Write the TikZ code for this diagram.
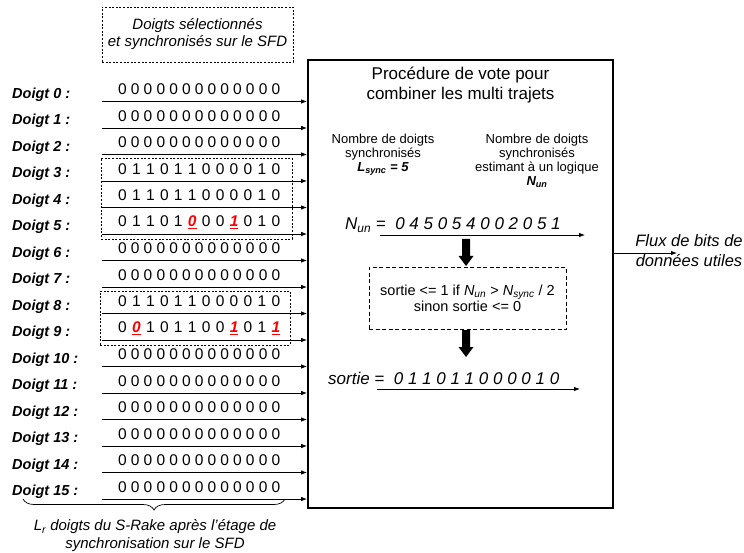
\documentclass[tikz,border=0pt]{standalone}
\usepackage{fontspec}
\setmainfont{Liberation Sans}
\usetikzlibrary{arrows.meta,decorations.pathreplacing,calc}
\newcommand\rd[1]{\textcolor{red}{\underline{\textbf{\textit{#1}}}}}
\newcommand\bitrow[1]{\makebox[162pt][s]{#1}}
\def\zr{0 0 0 0 0 0 0 0 0 0 0 0 0}
\def\br{0 1 1 0 1 1 0 0 0 0 1 0}
\def\brA{0 1 1 0 1 \rd{0} 0 0 \rd{1} 0 1 0}
\def\brB{0 \rd{0} 1 0 1 1 0 0 \rd{1} 0 1 \rd{1}}
\begin{document}
\begin{tikzpicture}[x=1pt,y=-1pt,
  lbl/.style={font=\fontsize{14.5}{16}\selectfont\bfseries\itshape, anchor=west, inner sep=0pt},
  bits/.style={font=\fontsize{15.5}{17}\selectfont, anchor=west, inner sep=0pt},
  row/.style={-{Latex[length=6pt,width=4.5pt]}, line width=0.8pt},
  grp/.style={draw, dash pattern=on 2pt off 1.6pt, line width=0.7pt},
  info/.style={align=center, inner sep=0pt, font=\fontsize{13}{14}\selectfont}
]
\fill[white] (0,0) rectangle (744,553);
\useasboundingbox (0,0) rectangle (744,553);

% top caption box
\node[grp, minimum width=191pt, minimum height=55pt, align=center, inner sep=0pt,
      font=\fontsize{15}{17}\selectfont\itshape] (sel) at (197.5,34.5)
      {Doigts sélectionnés\\et synchronisés sur le SFD};

% main box
\node[draw, line width=1.8pt, minimum width=305pt, minimum height=448pt] (box) at (460.5,284) {};

% rows
\foreach \i/\b in {0/\zr,1/\zr,2/\zr,3/\br,4/\br,5/\brA,6/\zr,7/\zr,8/\br,9/\brB,10/\zr,11/\zr,12/\zr,13/\zr,14/\zr,15/\zr}{
  \pgfmathsetmacro\yy{101.5+26.5*\i}
  \node[lbl] (L\i) at (12,\yy-7) {Doigt \i\ :};
  \node[bits] (B\i) at (118,\yy-12) {\bitrow{\b}};
  \coordinate (S\i) at (102,\yy);
  \draw[row] (S\i) -- (S\i -| box.west);
}

% group boxes
\node[grp, minimum width=191pt, minimum height=81pt] (g1) at (196.5,198.5) {};
\node[grp, minimum width=190pt, minimum height=54pt] (g2) at (195,318) {};

% title
\node[align=center, inner sep=0pt, font=\fontsize{17}{20}\selectfont] (title) at (460.5,85)
  {Procédure de vote pour\\combiner les multi trajets};

\node[info] (lsync) at (383,155)
  {Nombre de doigts\\synchronisés\\\textbf{\textit{L\textsubscript{sync} = 5}}};
\node[info] (nunInfo) at (537,161)
  {Nombre de doigts\\synchronisés\\estimant à un logique\\\textbf{\textit{N\textsubscript{un}}}};

% N_un line
\node[anchor=west, inner sep=0pt, font=\fontsize{17}{20}\selectfont\itshape] (nun) at (345,225)
  {N\textsubscript{un} =\ \ 0 4 5 0 5 4 0 0 2 0 5 1};
\coordinate (na1) at (380,235);
\coordinate (na2) at (585,235);
\draw[row] (na1) -- (na2);

% decision box
\node[draw, dash pattern=on 4pt off 2.5pt, line width=0.8pt, minimum width=197pt, minimum height=62pt,
      align=center, inner sep=0pt, font=\fontsize{14.5}{16}\selectfont] (dec) at (467.5,298.5)
  {sortie <= 1 if \textit{N\textsubscript{un}} > \textit{N\textsubscript{sync}} / 2\\sinon sortie <= 0};

% thick arrows
\coordinate (ta1) at (466,239);
\coordinate (tb1) at (466,266);
\fill ($(ta1)+(-4,0)$) -- ($(tb1)+(-4,-10)$) -- ($(tb1)+(-7.5,-10)$) -- (tb1)
  -- ($(tb1)+(7.5,-10)$) -- ($(tb1)+(4,-10)$) -- ($(ta1)+(4,0)$) -- cycle;
\coordinate (ta2) at (466,330);
\coordinate (tb2) at (466,357);
\fill ($(ta2)+(-4,0)$) -- ($(tb2)+(-4,-10)$) -- ($(tb2)+(-7.5,-10)$) -- (tb2)
  -- ($(tb2)+(7.5,-10)$) -- ($(tb2)+(4,-10)$) -- ($(ta2)+(4,0)$) -- cycle;

% sortie line
\node[anchor=west, inner sep=0pt, font=\fontsize{17}{20}\selectfont\itshape] (sortie) at (328,378)
  {sortie =\ \ 0 1 1 0 1 1 0 0 0 0 1 0};
\coordinate (sa1) at (377,389);
\coordinate (sa2) at (580,389);
\draw[row] (sa1) -- (sa2);

% output
\coordinate (out) at (677,253);
\draw[row] (out -| box.east) -- (out);
\node[align=center, inner sep=0pt, font=\fontsize{16.5}{20}\selectfont\itshape] (flux) at (689,251)
  {Flux de bits de\\données utiles};

% brace
\coordinate (br1) at (285,499);
\coordinate (br2) at (23,499);
\draw[decorate, decoration={brace, amplitude=11pt}, line width=0.7pt] (br1) -- (br2);
\node[align=center, inner sep=0pt, font=\fontsize{15}{18}\selectfont\itshape] (cap) at (155,536)
  {L\textsubscript{r} doigts du S-Rake après l’étage de\\synchronisation sur le SFD};
\end{tikzpicture}
\end{document}
